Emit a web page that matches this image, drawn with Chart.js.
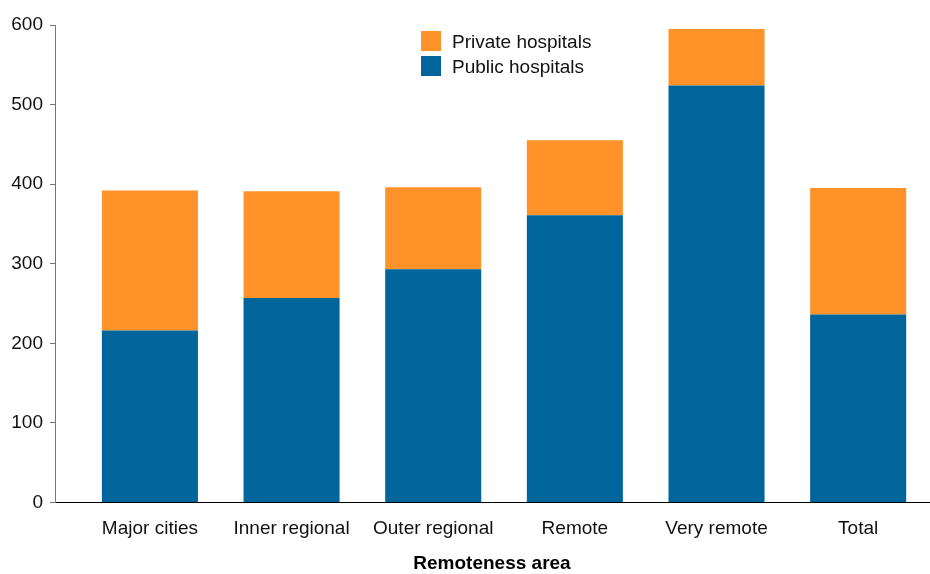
<!DOCTYPE html>
<html>
<head>
<meta charset="utf-8">
<script src="https://cdn.jsdelivr.net/npm/chart.js@4/dist/chart.umd.min.js"></script>
<style>
  html, body { margin: 0; padding: 0; background: #fff; }
  #wrap { width: 930px; height: 574px; position: relative; }
</style>
</head>
<body>
<div id="wrap"><canvas id="stage"></canvas></div>
<script>
// remoteness areas along the bottom
const categories = ['Major cities', 'Inner regional', 'Outer regional', 'Remote', 'Very remote', 'Total'];
const publicValues = [216, 257, 293, 361, 524, 236];
const privateValues = [176, 134, 103, 94, 71, 159];
const yTicks = [0, 100, 200, 300, 400, 500, 600];

const orange = '#FF9228';
const blue = '#00659A';
const fontName = '"Liberation Sans", Arial, sans-serif';

// legend drawn by hand (stacked vertically inside the plot)
const boxLegend = {
  id: 'boxLegend',
  afterDraw(chart) {
    const ctx = chart.ctx;
    const items = chart.data.datasets.slice().reverse();
    ctx.save();
    ctx.font = '19px ' + fontName;
    ctx.textBaseline = 'middle';
    items.forEach((ds, i) => {
      const y = 31 + i * 25;
      ctx.fillStyle = ds.backgroundColor;
      ctx.fillRect(421, y, 20, 20);
      ctx.fillStyle = '#111';
      ctx.fillText(ds.label, 452, y + 12);
    });
    ctx.restore();
  }
};

const stage = document.getElementById('stage');
new Chart(stage, {
  type: 'bar',
  data: {
    datasets: [
      {
        label: 'Public hospitals',
        data: publicValues.map((v, i) => ({ x: i, y: v })),
        backgroundColor: blue,
        borderWidth: 0
      },
      {
        label: 'Private hospitals',
        data: privateValues.map((v, i) => ({ x: i, y: v })),
        backgroundColor: orange,
        borderWidth: 0
      }
    ]
  },
  options: {
    responsive: true,
    maintainAspectRatio: false,
    animation: false,
    categoryPercentage: 1,
    barPercentage: 0.678,
    layout: { padding: { top: 25, right: 1, left: 0, bottom: 0 } },
    plugins: {
      legend: { display: false },
      tooltip: { enabled: false }
    },
    scales: {
      x: {
        type: 'linear',
        stacked: true,
        offset: false,
        min: -0.67,
        max: 5.5,
        afterBuildTicks: (scale) => {
          scale.ticks = categories.map((c, i) => ({ value: i }));
        },
        grid: { display: false, drawTicks: false, offset: false },
        border: { display: true, color: '#000', width: 1 },
        ticks: {
          autoSkip: false,
          maxRotation: 0,
          padding: 15,
          color: '#111',
          font: { family: fontName, size: 19 },
          callback: (v) => categories[v]
        },
        title: {
          display: true,
          text: 'Remoteness area',
          color: '#000',
          font: { family: fontName, size: 19, weight: 'bold' },
          padding: { top: -3, bottom: -1 }
        }
      },
      y: {
        stacked: true,
        min: 0,
        max: 600,
        afterBuildTicks: (scale) => {
          scale.ticks = yTicks.map(v => ({ value: v }));
        },
        afterFit: (scale) => { scale.width = 55; },
        grid: { drawOnChartArea: false, tickLength: 5, color: '#777' },
        border: { color: '#777', width: 1 },
        ticks: {
          padding: 7,
          color: '#111',
          font: { family: fontName, size: 19 }
        }
      }
    }
  },
  plugins: [boxLegend]
});
</script>
</body>
</html>
